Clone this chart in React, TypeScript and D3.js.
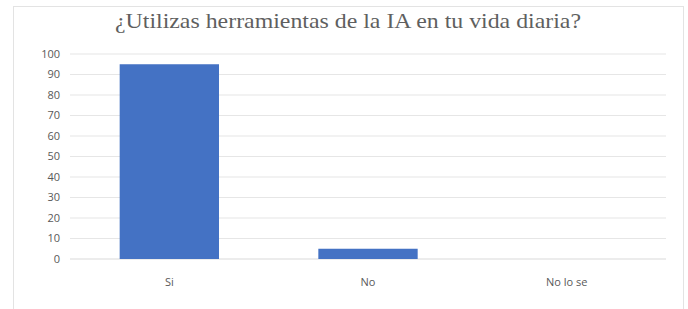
import React, { useEffect, useRef } from 'react';
import * as d3 from 'd3';

const categories = ['Si', 'No', 'No lo se'];
const values = [95, 5, 0];
const yTicks = [0, 10, 20, 30, 40, 50, 60, 70, 80, 90, 100];
const title = '¿Utilizas herramientas de la IA en tu vida diaria?';

const App: React.FC = () => {
  const svgRef = useRef<SVGSVGElement>(null);
  const width = 688;
  const height = 309;

  useEffect(() => {
    if (!svgRef.current) return;
    const svg = d3.select(svgRef.current);
    svg.selectAll('*').remove();

    // outer chart frame
    svg.append('rect')
      .attr('x', 13.5).attr('y', 6.5)
      .attr('width', 670).attr('height', 310)
      .attr('fill', '#fff')
      .attr('stroke', '#e3e3e3');

    const margin = { top: 54, right: 22, bottom: 50, left: 70 };
    const innerWidth = width - margin.left - margin.right;
    const innerHeight = 259 - margin.top;

    const g = svg.append('g')
      .attr('transform', `translate(${margin.left},${margin.top})`);

    const x = d3.scaleBand()
      .domain(categories)
      .range([0, innerWidth])
      .paddingInner(0.5)
      .paddingOuter(0.25);

    const y = d3.scaleLinear().domain([0, 100]).range([innerHeight, 0]);

    // gridlines
    g.selectAll('.grid')
      .data(yTicks)
      .enter()
      .append('line')
      .attr('x1', 0)
      .attr('x2', innerWidth)
      .attr('y1', d => y(d))
      .attr('y2', d => y(d))
      .attr('stroke', d => d === 0 ? '#d9d9d9' : '#e6e6e6')
      .attr('stroke-width', 1.2);

    // y labels
    g.selectAll('.ylab')
      .data(yTicks)
      .enter()
      .append('text')
      .attr('x', -10)
      .attr('y', d => y(d))
      .attr('dy', '0.35em')
      .attr('text-anchor', 'end')
      .style('font-family', 'Open Sans, sans-serif')
      .style('font-size', '11px')
      .attr('fill', '#595959')
      .text(d => d);

    // bars
    g.selectAll('.bar')
      .data(values)
      .enter()
      .append('rect')
      .attr('x', (_, i) => x(categories[i]) || 0)
      .attr('y', d => y(d))
      .attr('width', x.bandwidth())
      .attr('height', d => innerHeight - y(d))
      .attr('fill', '#4472c4');

    // x labels
    g.selectAll('.xlab')
      .data(categories)
      .enter()
      .append('text')
      .attr('x', d => (x(d) || 0) + x.bandwidth() / 2)
      .attr('y', innerHeight + 27)
      .attr('text-anchor', 'middle')
      .style('font-family', 'Open Sans, sans-serif')
      .style('font-size', '11px')
      .attr('fill', '#595959')
      .text(d => d);

    // title (wide serif face, stretched to match)
    svg.append('text')
      .attr('x', 348)
      .attr('y', 28)
      .attr('text-anchor', 'middle')
      .attr('textLength', 466)
      .attr('lengthAdjust', 'spacingAndGlyphs')
      .style('font-family', 'Liberation Serif, serif')
      .style('font-size', '21px')
      .attr('fill', '#5f5f5f')
      .text(title);
  }, []);

  return (
    <svg
      ref={svgRef}
      width={width}
      height={height}
      style={{ position: 'absolute', left: 0, top: 0, background: '#fff' }}
    />
  );
};

export default App;
